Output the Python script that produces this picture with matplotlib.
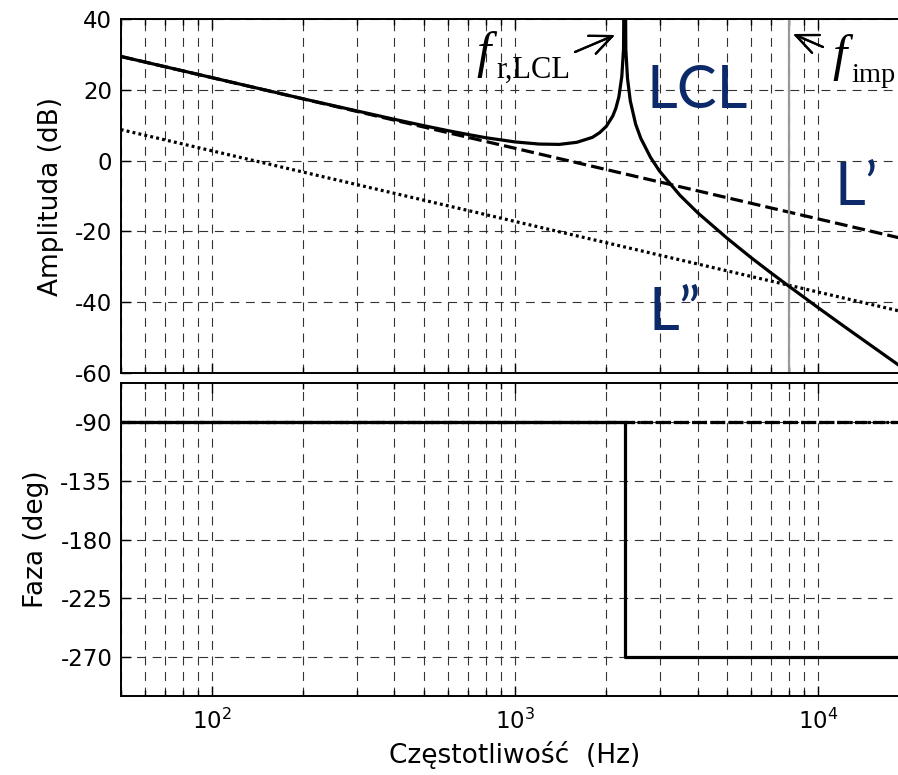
import numpy as np
import matplotlib.pyplot as plt
from matplotlib.ticker import FixedLocator, NullFormatter, LogLocator

plt.rcParams['axes.unicode_minus'] = False

# odczyt z wykresu (Hz, dB)
freq_lcl = [50, 100, 200, 300, 400, 500, 600, 700, 800, 1000, 1200, 1400, 1600,
            1800, 1900, 2000, 2100, 2150, 2200, 2250, 2280, 2300, 2320, 2350,
            2400, 2500, 2600, 2800, 3000, 3500, 4000, 5000, 6000, 7000, 8000,
            10000, 12000, 15000, 20000]
mag_lcl = [29.5, 23.5, 17.5, 14.1, 11.7, 9.9, 8.5, 7.4, 6.5, 5.3, 4.7, 4.6, 5.2,
           6.6, 7.9, 9.7, 12.6, 14.8, 18.0, 23.8, 31.6, 80.0, 31.4, 23.2,
           16.9, 10.3, 6.3, 0.9, -3.0, -9.8, -14.7, -21.9, -27.4, -31.8, -35.5,
           -41.6, -46.5, -52.4, -60.0]

freq_line = [50, 20000]
mag_l1 = [29.5, -22.5]    # L'
mag_l2 = [8.8, -43.2]     # L''

f_imp = 8000

phase_freq = [50, 2300, 2300, 20000]
phase_lcl = [-90, -90, -270, -270]
phase_l = [-90, -90]

amp_ticks = [-60, -40, -20, 0, 20, 40]
phase_ticks = [-270, -225, -180, -135, -90]

W, H = 898, 775
fig = plt.figure(figsize=(W / 100, H / 100), dpi=100)

x0, x1 = 120.7, 909.4
ax1 = fig.add_axes([x0 / W, 1 - 372.7 / H, (x1 - x0) / W, (372.7 - 19.3) / H])
ax2 = fig.add_axes([x0 / W, 1 - 696 / H, (x1 - x0) / W, (696 - 383.3) / H])

grid_kw = dict(color='0.2', linestyle=(0, (8, 6)), linewidth=0.8)
navy = '#0c2a69'

for ax in (ax1, ax2):
    ax.set_xscale('log')
    ax.set_xlim(50, 20000)
    ax.xaxis.set_minor_locator(LogLocator(base=10, subs=np.arange(2, 10)))
    ax.xaxis.set_minor_formatter(NullFormatter())
    ax.grid(True, which='both', axis='x', **grid_kw)
    ax.grid(True, which='major', axis='y', **grid_kw)
    ax.set_axisbelow(True)
    ax.tick_params(which='both', direction='in', top=True, right=True,
                   labelsize=16.5, pad=6, width=1)
    ax.tick_params(which='major', length=7)
    ax.tick_params(which='minor', length=4)
    for s in ax.spines.values():
        s.set_linewidth(1.4)

# amplituda
ax1.plot(freq_line, mag_l1, color='black', lw=2.3, linestyle=(0, (4, 1.6)))
ax1.plot(freq_line, mag_l2, color='black', lw=2.3, linestyle=(0, (0.9, 1.0)))
ax1.axvline(f_imp, color='#999999', lw=1.6)
ax1.plot(freq_lcl, mag_lcl, color='black', lw=2.3)
ax1.set_ylim(-60, 40)
ax1.yaxis.set_major_locator(FixedLocator(amp_ticks))
ax1.tick_params(labelbottom=False)
ax1.set_ylabel('Amplituda (dB)', fontsize=19, labelpad=8)

# faza
ax2.plot(freq_line, phase_l, color='black', lw=2.3, linestyle=(0, (4, 1.6)))
ax2.plot(freq_line, phase_l, color='black', lw=2.3, linestyle=(0, (0.9, 1.0)))
ax2.plot(phase_freq, phase_lcl, color='black', lw=2.3)
ax2.set_ylim(-300, -60)
ax2.yaxis.set_major_locator(FixedLocator(phase_ticks))
ax2.set_ylabel('Faza (deg)', fontsize=19, labelpad=8)
ax2.set_xlabel('Częstotliwość  (Hz)', fontsize=19, labelpad=5)
ax2.tick_params(axis='x', pad=9)

# opisy
def px(x, y):
    return x / W, 1 - y / H

fig.text(*px(647, 108), 'LCL', fontsize=43, family='Lato', color=navy, va='baseline')
fig.text(*px(835, 205), 'L’', fontsize=43, family='Lato', color=navy, va='baseline')
fig.text(*px(648, 330), 'L”', fontsize=43, family='Lato', color=navy, va='baseline')

serif = 'Liberation Serif'
fig.text(*px(476, 67), 'f', fontsize=37, family=serif, style='italic', va='baseline')
fig.text(*px(496, 78), 'r,LCL', fontsize=22, family=serif, va='baseline')
fig.text(*px(832, 70), 'f', fontsize=37, family=serif, style='italic', va='baseline')
fig.text(*px(851, 82), 'imp', fontsize=20.5, family=serif, va='baseline')

arrow_kw = dict(arrowstyle='->,head_length=1.6,head_width=0.7', color='black',
                lw=1.6, shrinkA=0, shrinkB=0, mutation_scale=10)
fig.add_artist(plt.annotate('', xy=(615, H - 35), xytext=(575, H - 52),
                            xycoords='figure pixels', textcoords='figure pixels',
                            arrowprops=arrow_kw, annotation_clip=False))
fig.add_artist(plt.annotate('', xy=(793, H - 34), xytext=(823, H - 47),
                            xycoords='figure pixels', textcoords='figure pixels',
                            arrowprops=arrow_kw, annotation_clip=False))

fig.savefig('out.png', dpi=100)
